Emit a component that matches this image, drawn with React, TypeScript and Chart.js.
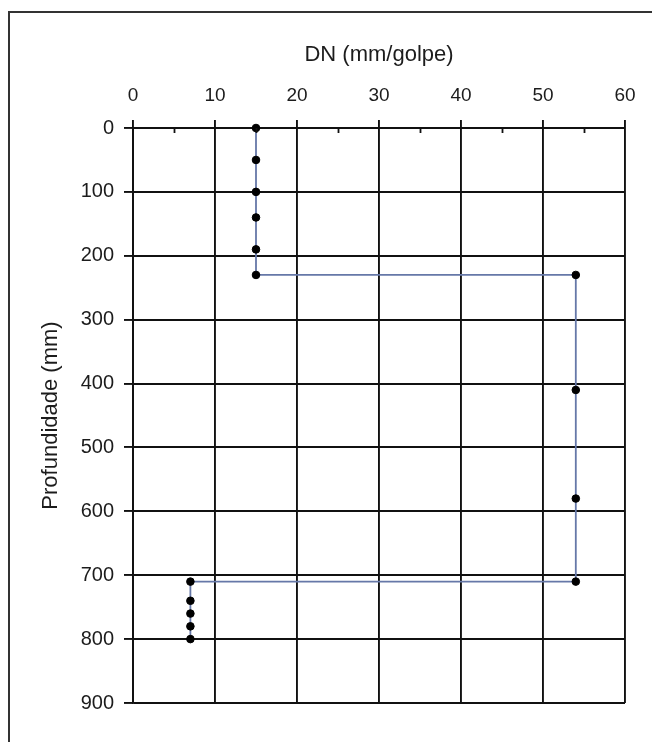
import React, { useEffect, useRef } from "react";
import { Chart, registerables } from "chart.js";

Chart.register(...registerables);

const DN_VALUES = [15, 15, 15, 15, 15, 15, 54, 54, 54, 54, 7, 7, 7, 7, 7];
const DEPTH_VALUES = [0, 50, 100, 140, 190, 230, 230, 410, 580, 710, 710, 740, 760, 780, 800];
const X_TITLE = "DN (mm/golpe)";
const Y_TITLE = "Profundidade (mm)";
const MINOR_X_TICKS = [5, 15, 25, 35, 45, 55];

const FONT = "'Liberation Sans', Arial, sans-serif";
const TEXT = "#1c1c1c";

const minorTicks = {
  id: "minorTicks",
  afterDraw(chart: any) {
    const xs = chart.scales.x;
    const top = chart.chartArea.top;
    const ctx = chart.ctx;
    ctx.save();
    ctx.strokeStyle = "#111";
    ctx.lineWidth = 1.8;
    MINOR_X_TICKS.forEach((v) => {
      const px = Math.round(xs.getPixelForValue(v)) + 0.5;
      ctx.beginPath();
      ctx.moveTo(px, top);
      ctx.lineTo(px, top + 5);
      ctx.stroke();
    });
    ctx.restore();
  },
};

export default function App() {
  const ref = useRef<HTMLCanvasElement | null>(null);

  useEffect(() => {
    if (!ref.current) return;
    const data = DN_VALUES.map((x, i) => ({ x, y: DEPTH_VALUES[i] }));
    const chart = new Chart(ref.current, {
      type: "scatter",
      data: {
        datasets: [
          {
            data,
            showLine: true,
            clip: false,
            borderColor: "#6678a8",
            borderWidth: 1.8,
            pointRadius: 3.8,
            pointBackgroundColor: "#000",
            pointBorderColor: "#000",
            pointBorderWidth: 1,
            tension: 0,
          },
        ],
      },
      options: {
        responsive: false,
        animation: false,
        devicePixelRatio: 1,
        layout: { padding: { left: 30, top: 30, right: 27, bottom: 39 } },
        plugins: { legend: { display: false }, tooltip: { enabled: false } },
        scales: {
          x: {
            type: "linear",
            position: "top",
            min: 0,
            max: 60,
            afterFit: (s: any) => {
              s.height = 98;
            },
            ticks: {
              stepSize: 10,
              padding: 13,
              color: TEXT,
              font: { family: FONT, size: 19 },
            },
            grid: {
              color: "#111",
              lineWidth: 1.9,
              tickLength: 8,
              drawTicks: true,
            },
            border: { display: true, color: "#111", width: 1.9 },
            title: {
              display: true,
              text: X_TITLE,
              color: TEXT,
              font: { family: FONT, size: 22 },
              padding: { top: 12, bottom: 0 },
            },
          },
          y: {
            type: "linear",
            reverse: true,
            min: 0,
            max: 900,
            afterFit: (s: any) => {
              s.width = 103;
            },
            ticks: {
              stepSize: 100,
              padding: 10,
              color: TEXT,
              font: { family: FONT, size: 20 },
            },
            grid: {
              color: "#111",
              lineWidth: 1.9,
              tickLength: 9,
              drawTicks: true,
            },
            border: { display: true, color: "#111", width: 1.9 },
            title: {
              display: true,
              text: Y_TITLE,
              color: TEXT,
              font: { family: FONT, size: 22 },
              padding: { top: 8, bottom: 0 },
            },
          },
        },
      },
      plugins: [minorTicks],
    });
    return () => chart.destroy();
  }, []);

  return (
    <div>
      <div
        style={{
          position: "fixed",
          left: 8,
          top: 11,
          width: 644,
          height: 731,
          borderLeft: "2px solid #333",
          borderTop: "2px solid #333",
          boxSizing: "border-box",
        }}
      />
      <canvas
        ref={ref}
        width={652}
        height={742}
        style={{ position: "fixed", left: 0, top: 0, display: "block" }}
      />
    </div>
  );
}
